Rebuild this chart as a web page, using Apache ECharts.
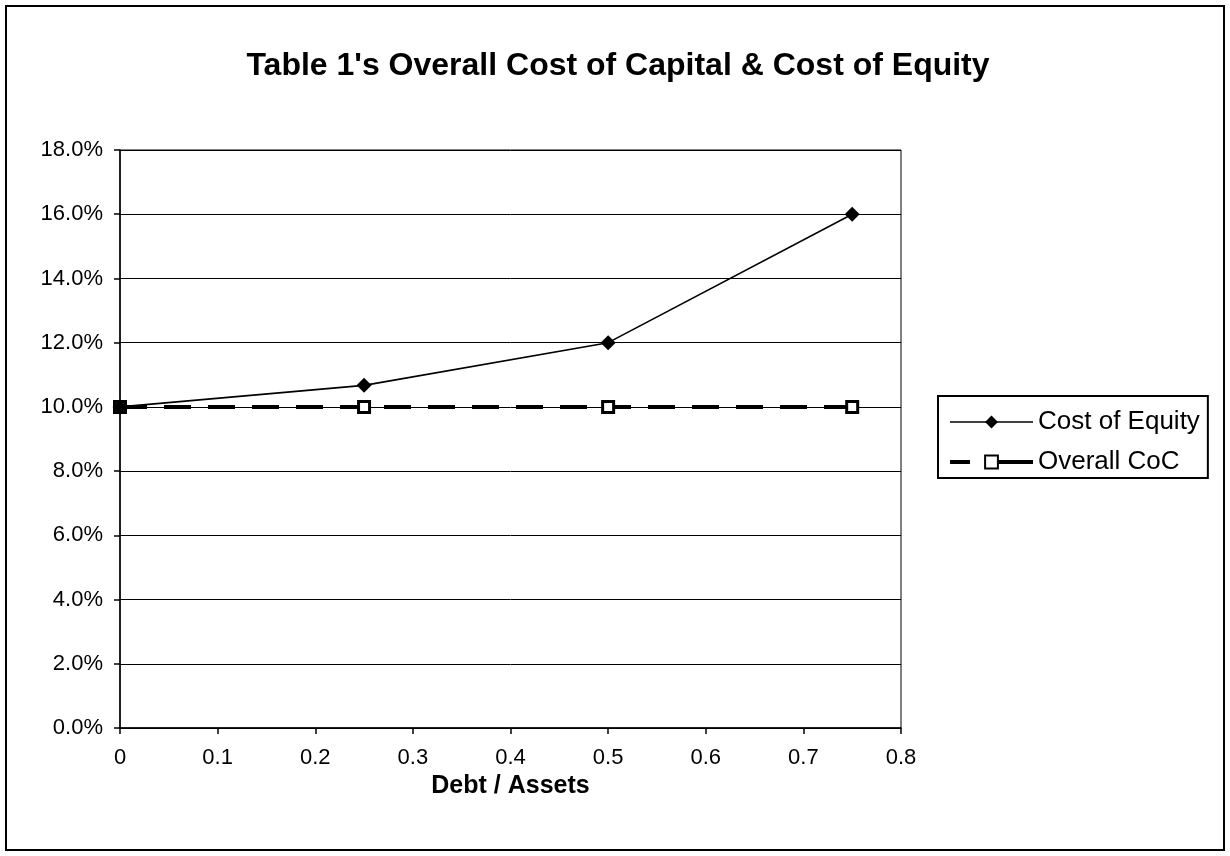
<!DOCTYPE html>
<html>
<head>
<meta charset="utf-8">
<script src="https://cdn.jsdelivr.net/npm/echarts@6/dist/echarts.min.js"></script>
<style>
  html, body { margin: 0; padding: 0; background: #fff; }
  #chart { width: 1230px; height: 856px; }
</style>
</head>
<body>
<div id="chart"></div>
<script>
// Debt / Assets ratios and the resulting rates
const debtRatio = [0, 0.25, 0.5, 0.75];
const costOfEquity = [0.10, 0.1067, 0.12, 0.16];
const overallCoC = [0.10, 0.10, 0.10, 0.10];
const seriesNames = ['Cost of Equity', 'Overall CoC'];

const font = 'Arial, "Liberation Sans", sans-serif';
const chart = echarts.init(document.getElementById('chart'), null, { renderer: 'canvas' });

chart.setOption({
  backgroundColor: '#ffffff',
  animation: false,
  title: {
    text: "Table 1's Overall Cost of Capital & Cost of Equity",
    left: 613,
    textAlign: 'center',
    top: 45,
    textStyle: { fontFamily: font, fontSize: 32, fontWeight: 'bold', color: '#000' }
  },
  graphic: [{
    type: 'rect',
    shape: { x: 6, y: 6, width: 1218, height: 844 },
    style: { fill: 'none', stroke: '#000', lineWidth: 2 },
    silent: true
  }],
  grid: {
    left: 120, right: 329, top: 150, bottom: 128,
    show: true, borderColor: '#000', borderWidth: 1, backgroundColor: 'transparent'
  },
  legend: {
    orient: 'vertical',
    left: 938, top: 396,
    padding: [13, 8, 3, 10],
    itemWidth: 83, itemHeight: 16,
    itemGap: 14,
    borderColor: '#000', borderWidth: 2,
    textStyle: { fontFamily: font, fontSize: 26, color: '#000', padding: [0, 0, 0, 0] },
    data: [
      { name: seriesNames[0], lineStyle: { width: 1.6 } },
      { name: seriesNames[1], lineStyle: { width: 4, type: [20, 17, 50, 0] } }
    ]
  },
  xAxis: {
    type: 'value',
    min: 0, max: 0.8, interval: 0.1,
    name: 'Debt / Assets',
    nameLocation: 'middle',
    nameGap: 40,
    nameTextStyle: { fontFamily: font, fontSize: 25, fontWeight: 'bold', color: '#000' },
    axisLine: { lineStyle: { color: '#000', width: 1.5 } },
    axisTick: { show: true, length: 6, lineStyle: { color: '#000', width: 1.5 } },
    axisLabel: {
      fontFamily: font, fontSize: 22, color: '#000', margin: 19,
      formatter: v => String(Math.round(v * 10) / 10)
    },
    splitLine: { show: false }
  },
  yAxis: {
    type: 'value',
    min: 0, max: 0.18, interval: 0.02,
    axisLine: { show: true, lineStyle: { color: '#000', width: 1.5 } },
    axisTick: { show: true, length: 6, lineStyle: { color: '#000', width: 1.5 } },
    axisLabel: {
      fontFamily: font, fontSize: 22, color: '#000', margin: 17,
      formatter: v => (v * 100).toFixed(1) + '%'
    },
    splitLine: { show: true, lineStyle: { color: '#000', width: 1 } }
  },
  series: [
    {
      name: seriesNames[0],
      type: 'line',
      data: debtRatio.map((x, i) => [x, costOfEquity[i]]),
      symbol: 'diamond',
      symbolSize: [15, 15],
      showAllSymbol: true,
      itemStyle: { color: '#000' },
      lineStyle: { color: '#000', width: 1.6 },
      z: 3
    },
    {
      name: seriesNames[1],
      type: 'line',
      data: debtRatio.map((x, i) => [x, overallCoC[i]]),
      symbol: 'rect',
      symbolSize: 11,
      showAllSymbol: true,
      itemStyle: { color: '#fff', borderColor: '#000', borderWidth: 3 },
      lineStyle: { color: '#000', width: 4, type: [27, 17] },
      z: 2
    }
  ]
});
</script>
</body>
</html>
